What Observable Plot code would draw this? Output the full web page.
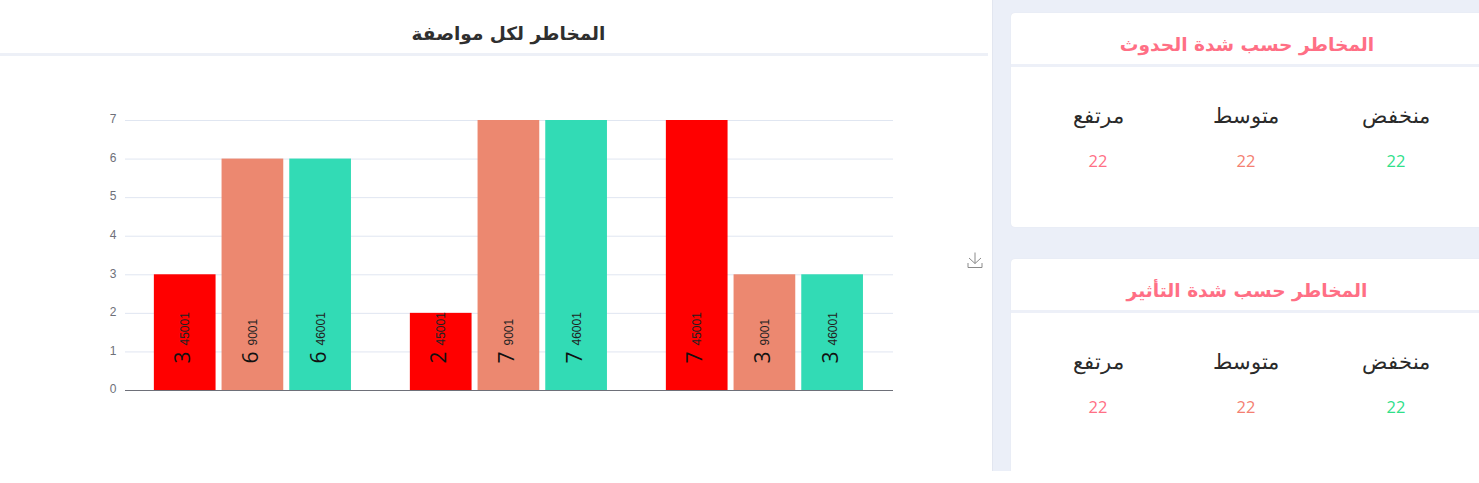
<!DOCTYPE html>
<html lang="ar">
<head>
<meta charset="utf-8">
<script src="https://cdn.jsdelivr.net/npm/d3@7"></script>
<script src="https://cdn.jsdelivr.net/npm/@observablehq/plot@0.6"></script>
<style>
html,body{margin:0;padding:0;background:#fff;width:1479px;height:483px;overflow:hidden;font-family:"DejaVu Sans",sans-serif}
#left{position:absolute;left:0;top:0;width:988px;height:471px;background:#fff}
#title{position:absolute;left:0;top:23px;width:1017px;text-align:center;font:bold 18.5px "DejaVu Sans",sans-serif;color:#2f2f2f}
#rule{position:absolute;left:0;top:53px;width:988px;height:3px;background:#edf0f7}
#chart{position:absolute;left:0;top:100px}
#dl{position:absolute;left:967px;top:252px}
#right{position:absolute;left:992px;top:0;width:487px;height:471px;background:#ebeff8;border-left:1px solid #e2e6f0;overflow:hidden}
.card{position:absolute;left:18px;width:480px;background:#fff;border-radius:4px;box-shadow:0 0 1px #d8dde8}
.card h3{margin:0;height:51px;text-align:center;width:472px;font:bold 18.6px/63px "DejaVu Sans",sans-serif;color:#ff6f85;border-bottom:3px solid #edf0f8}
.col{position:absolute;top:0;width:120px;text-align:center}
.name{font:200 21px "DejaVu Sans",sans-serif;color:#2a2a2a;position:absolute;top:91px;width:100%}
.num{font:400 16.5px "Open Sans",sans-serif;position:absolute;top:136px;width:100%}
</style>
</head>
<body>
<div id="left">
  <div id="title"></div>
  <div id="rule"></div>
  <div id="chart"></div>
  <svg id="dl" width="16" height="17" viewBox="0 0 16 17" fill="none" stroke="#8a8a8a" stroke-width="1"><path d="M8 0.5V11.5M2 6L8 11.5L14 6M1 11V15.5H15V11"/></svg>
</div>
<div id="right"></div>
<script>
const groups = ["A", "B", "C"];
const specs = ["45001", "9001", "46001"];
const valuesA = [3, 6, 6];
const valuesB = [2, 7, 7];
const valuesC = [7, 3, 3];
const colors = ["#ff0000", "#ec8870", "#32dbb5"];
const yTicks = [0, 1, 2, 3, 4, 5, 6, 7];

const chartTitle = "المخاطر لكل مواصفة";
const cardTitles = ["المخاطر حسب شدة الحدوث", "المخاطر حسب شدة التأثير"];
const levels = ["مرتفع", "متوسط", "منخفض"];
const levelCounts = [22, 22, 22];
const levelColors = ["#ff6f85", "#f47f72", "#2fe08a"];

const rows = [valuesA, valuesB, valuesC].flatMap((vals, g) =>
  vals.map((v, i) => ({group: groups[g], spec: specs[i], value: v})));

const plot = Plot.plot({
  width: 960,
  height: 330,
  marginLeft: 125,
  marginRight: 67,
  marginTop: 20,
  marginBottom: 40,
  style: {background: "transparent", fontFamily: "'Liberation Sans', Arial, sans-serif"},
  fx: {domain: groups, padding: 0, axis: null},
  x: {domain: specs, paddingInner: 0.0886, paddingOuter: 0.435, align: 0.49, round: false, axis: null},
  y: {domain: [0, 7], ticks: yTicks, axis: null},
  color: {domain: specs, range: colors},
  marks: [
    Plot.gridY(yTicks, {stroke: "#e0e6f1", strokeOpacity: 1, strokeWidth: 1}),
    Plot.barY(rows, {fx: "group", x: "spec", y: "value", fill: "spec"}),
    Plot.ruleY([0], {stroke: "#6e7079", strokeWidth: 1}),
    Plot.axisY(yTicks, {anchor: "left", tickSize: 0, tickPadding: 9, label: null, fontSize: 12, fill: "#6e7079", dy: -1}),
    Plot.text(rows, {fx: "group", x: "spec", frameAnchor: "bottom", text: d => String(d.value),
      rotate: -90, textAnchor: "start", dy: -27, dx: 5, fontSize: 21, fontFamily: "'Open Sans', sans-serif", fontWeight: 400, fill: "#111"}),
    Plot.text(rows, {fx: "group", x: "spec", frameAnchor: "bottom", text: "spec",
      rotate: -90, textAnchor: "start", dy: -45, dx: 4, fontSize: 12, fill: "#222"})
  ]
});
document.getElementById("chart").append(plot);
document.getElementById("title").textContent = chartTitle;

const right = document.getElementById("right");
const colLeft = [27, 175, 325];
cardTitles.forEach((t, c) => {
  const card = document.createElement("div");
  card.className = "card";
  card.style.top = (c === 0 ? 13 : 259) + "px";
  card.style.height = (c === 0 ? 214 : 240) + "px";
  const h = document.createElement("h3");
  h.textContent = t;
  card.append(h);
  levels.forEach((name, i) => {
    const col = document.createElement("div");
    col.className = "col";
    col.style.left = colLeft[i] + "px";
    const n = document.createElement("div"); n.className = "name"; n.textContent = name;
    const v = document.createElement("div"); v.className = "num"; v.textContent = levelCounts[i];
    v.style.color = levelColors[i];
    col.append(n, v);
    card.append(col);
  });
  right.append(card);
});
</script>
</body>
</html>
